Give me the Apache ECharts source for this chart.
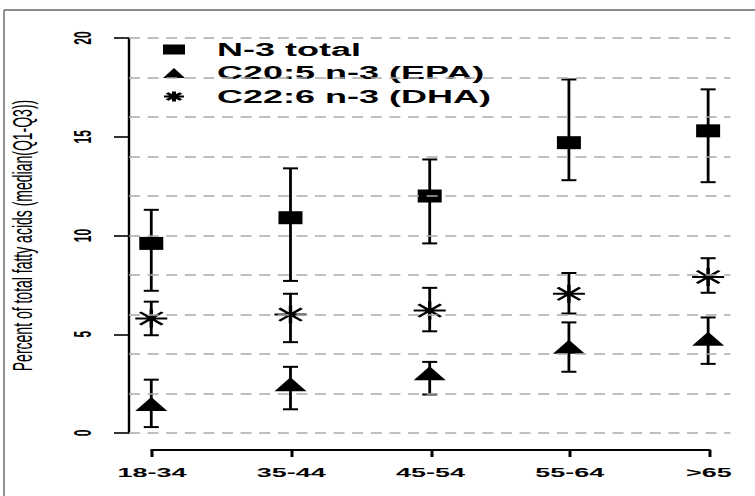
<!DOCTYPE html>
<html>
<head>
<meta charset="utf-8">
<script src="https://cdn.jsdelivr.net/npm/echarts@6/dist/echarts.min.js"></script>
<style>
  html, body { margin: 0; padding: 0; background: #fff; overflow: hidden; }
  #wrap { width: 755px; height: 496px; overflow: hidden; position: relative; }
  #chart { width: 377.5px; height: 496px; transform: scaleX(2); transform-origin: 0 0; position: absolute; left: 0; top: 0; }
</style>
</head>
<body>
<div id="wrap"><div id="chart"></div></div>
<script>
// ---- data ----
const categories = ['18-34', '35-44', '45-54', '55-64', '>65'];
const yTickValues = [0, 5, 10, 15, 20];
const gridValues = [0, 2, 4, 6, 8, 10, 12, 14, 16, 18, 20];

const n3Median = [9.6, 10.9, 12.0, 14.7, 15.3];
const n3Q1     = [7.2, 7.7, 9.6, 12.8, 12.7];
const n3Q3     = [11.3, 13.4, 13.85, 17.9, 17.4];

const epaMedian = [1.35, 2.35, 2.9, 4.25, 4.65];
const epaQ1     = [0.3, 1.2, 1.95, 3.1, 3.5];
const epaQ3     = [2.7, 3.35, 3.6, 5.6, 5.85];

const dhaMedian = [5.8, 6.0, 6.2, 7.05, 7.9];
const dhaQ1     = [4.95, 4.6, 5.15, 6.05, 7.1];
const dhaQ3     = [6.65, 7.05, 7.35, 8.1, 8.85];

const seriesNames = ['N-3 total', 'C20:5 n-3 (EPA)', 'C22:6 n-3 (DHA)'];

// ---- helpers ----
const pts = (arr) => arr.map((v, i) => [i + 1, v]);
const ranges = (lo, hi) => lo.map((v, i) => [i + 1, v, hi[i]]);
const asterisk = 'path://M0,5L10,5M5,0L5,10M1.5,1.5L8.5,8.5M8.5,1.5L1.5,8.5';
const FONT = 'Liberation Sans, Arial, Helvetica, sans-serif';

function errorBar(params, api) {
  const x = api.value(0);
  const lo = api.coord([x, api.value(1)]);
  const hi = api.coord([x, api.value(2)]);
  const hw = 3.75;
  return {
    type: 'group',
    children: [
      { type: 'line', shape: { x1: lo[0], y1: lo[1], x2: hi[0], y2: hi[1] }, style: { stroke: '#000', lineWidth: 1.4 } },
      { type: 'line', shape: { x1: lo[0] - hw, y1: lo[1], x2: lo[0] + hw, y2: lo[1] }, style: { stroke: '#000', lineWidth: 2 } },
      { type: 'line', shape: { x1: hi[0] - hw, y1: hi[1], x2: hi[0] + hw, y2: hi[1] }, style: { stroke: '#000', lineWidth: 2 } }
    ]
  };
}

const chart = echarts.init(document.getElementById('chart'), null, { renderer: 'svg' });

const option = {
  animation: false,
  backgroundColor: '#fff',
  graphic: [
    { type: 'line', shape: { x1: 2, y1: 10, x2: 400, y2: 10 }, style: { stroke: '#666', lineWidth: 1.4 } },
    { type: 'line', shape: { x1: 2, y1: 10, x2: 2, y2: 520 }, style: { stroke: '#777', lineWidth: 0.8 } }
  ],
  legend: {
    orient: 'vertical',
    left: 76,
    top: 35.5,
    itemWidth: 11,
    itemHeight: 10,
    itemGap: 5.5,
    selectedMode: false,
    textStyle: { fontSize: 18, fontWeight: 'bold', fontFamily: FONT, color: '#000', padding: [0, 0, 0, 11] },
    data: [
      { name: seriesNames[0], icon: 'rect' },
      { name: seriesNames[1], icon: 'triangle' },
      { name: seriesNames[2], icon: asterisk }
    ]
  },
  grid: [
    { left: 64.5, right: 12.8, top: 38, bottom: 63, outerBoundsMode: 'none', containLabel: false },
    { left: 76, right: 23.5, top: 38, bottom: 46, outerBoundsMode: 'none', containLabel: false }
  ],
  xAxis: [
    { type: 'value', gridIndex: 0, min: 0.84, max: 5.16, show: false },
    {
      type: 'value', gridIndex: 1, min: 1, max: 5, interval: 1,
      axisLine: { show: true, lineStyle: { color: '#000', width: 2 } },
      axisTick: { show: true, length: 7, lineStyle: { color: '#000', width: 1.5 } },
      splitLine: { show: false },
      axisLabel: {
        margin: 16, fontSize: 13.5, fontWeight: 'bold', fontFamily: FONT, color: '#000',
        formatter: (v) => categories[Math.round(v) - 1] || ''
      }
    }
  ],
  yAxis: [
    {
      type: 'value', gridIndex: 0, min: 0, max: 20, interval: 5,
      name: 'Percent of total fatty acids (median(Q1-Q3))',
      nameLocation: 'middle', nameRotate: 90, nameGap: 46,
      nameTextStyle: { fontSize: 14, fontFamily: FONT, color: '#000' },
      axisLine: { show: true, lineStyle: { color: '#000', width: 1.2 } },
      axisTick: { show: true, length: 7.5, customValues: yTickValues, lineStyle: { color: '#000', width: 1.6 } },
      splitLine: { show: false },
      axisLabel: { customValues: yTickValues, rotate: 90, margin: 17, fontSize: 12, fontWeight: 'bold', fontFamily: FONT, color: '#000' }
    },
    { type: 'value', gridIndex: 1, min: 0, max: 20, show: false }
  ],
  series: [
    { type: 'custom', name: 'n3-range', xAxisIndex: 0, yAxisIndex: 0, renderItem: errorBar, data: ranges(n3Q1, n3Q3), z: 2, silent: true },
    { type: 'custom', name: 'epa-range', xAxisIndex: 0, yAxisIndex: 0, renderItem: errorBar, data: ranges(epaQ1, epaQ3), z: 2, silent: true },
    { type: 'custom', name: 'dha-range', xAxisIndex: 0, yAxisIndex: 0, renderItem: errorBar, data: ranges(dhaQ1, dhaQ3), z: 2, silent: true },
    {
      type: 'scatter', name: seriesNames[0], xAxisIndex: 0, yAxisIndex: 0,
      symbol: 'rect', symbolSize: [12, 13], itemStyle: { color: '#000', opacity: 1 }, data: pts(n3Median), z: 3, silent: true
    },
    {
      type: 'scatter', name: seriesNames[1], xAxisIndex: 0, yAxisIndex: 0,
      symbol: 'triangle', symbolSize: [16, 14], symbolOffset: [0, '-17%'], itemStyle: { color: '#000', opacity: 1 }, data: pts(epaMedian), z: 3, silent: true
    },
    {
      type: 'scatter', name: seriesNames[2], xAxisIndex: 0, yAxisIndex: 0,
      symbol: asterisk, symbolSize: [16, 18], itemStyle: { color: '#000', borderColor: '#000', borderWidth: 1.8, opacity: 1 },
      data: pts(dhaMedian), z: 3, silent: true,
      markLine: {
        silent: true, symbol: ['none', 'none'], label: { show: false },
        lineStyle: { type: [5.5, 3.8], color: '#aaa', width: 1.5 },
        emphasis: { disabled: true },
        data: gridValues.map((v) => ({ yAxis: v }))
      }
    }
  ]
};

chart.setOption(option);
</script>
</body>
</html>
